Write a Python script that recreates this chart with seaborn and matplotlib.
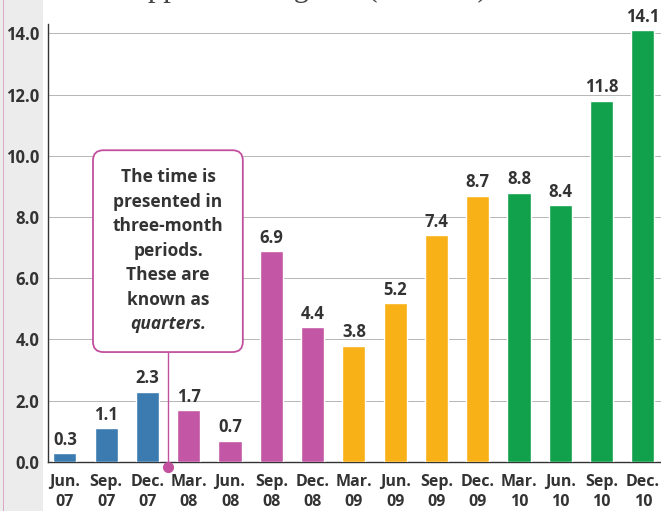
import matplotlib
matplotlib.use('Agg')
import matplotlib.pyplot as plt
import seaborn as sns
from matplotlib.patches import FancyBboxPatch, Rectangle

# data (millions)
quarters = ['Jun.\n07', 'Sep.\n07', 'Dec.\n07', 'Mar.\n08', 'Jun.\n08', 'Sep.\n08', 'Dec.\n08',
            'Mar.\n09', 'Jun.\n09', 'Sep.\n09', 'Dec.\n09', 'Mar.\n10', 'Jun.\n10', 'Sep.\n10', 'Dec.\n10']
sales = [0.3, 1.1, 2.3, 1.7, 0.7, 6.9, 4.4, 3.8, 5.2, 7.4, 8.7, 8.8, 8.4, 11.8, 14.1]
years = ['2007', '2007', '2007', '2008', '2008', '2008', '2008',
         '2009', '2009', '2009', '2009', '2010', '2010', '2010', '2010']
year_colors = {'2007': '#3b7bb0', '2008': '#c357a6', '2009': '#f8b117', '2010': '#11a04b'}
yticks = [0, 2, 4, 6, 8, 10, 12, 14]
note_lines = ['The time is', 'presented in', 'three-month', 'periods.', 'These are', 'known as', 'quarters.']

sns.set_style('white')
plt.rcParams['font.family'] = ['Open Sans', 'DejaVu Sans']
txt = '#333333'
pink = '#c2509f'

fig = plt.figure(figsize=(6.61, 5.11), dpi=100)
fig.patch.set_facecolor('white')
# grey page edge on the left of the photo
fig.patches.append(Rectangle((0, 0), 0.065, 1, transform=fig.transFigure,
                             facecolor='#ececec', edgecolor='none', zorder=-2))
fig.patches.append(Rectangle((0.004, 0), 0.002, 1, transform=fig.transFigure,
                             facecolor='#dcaac9', edgecolor='none', zorder=-1))

ax = fig.add_axes([0.0726, 0.0959, 0.9274, 0.857])
ax.set_facecolor('white')

sns.barplot(x=quarters, y=sales, hue=years, palette=year_colors, width=0.56,
            legend=False, ax=ax, zorder=3, saturation=1)

for c in ax.containers:
    ax.bar_label(c, fmt='%.1f', padding=3, fontsize=12, fontweight='bold', color=txt)

ax.set_xlim(-0.41, 14.44)
ax.set_ylim(0, 14.3)
ax.set_yticks(yticks)
ax.set_yticklabels([f'{v:.1f}' for v in yticks])
ax.yaxis.grid(True, color='#b5b5b5', linewidth=0.7, zorder=0)
ax.set_axisbelow(True)
ax.tick_params(axis='y', length=5, width=0.8, color='#888888', pad=1,
               labelsize=12, labelcolor=txt)
ax.tick_params(axis='x', length=0, pad=9, labelsize=11.5, labelcolor=txt)
for lab in ax.get_xticklabels():
    lab.set_fontweight('bold')
    lab.set_linespacing(1.3)
for lab in ax.get_yticklabels():
    lab.set_fontweight('bold')
for s in ['top', 'right']:
    ax.spines[s].set_visible(False)
for s in ['left', 'bottom']:
    ax.spines[s].set_color('#333333')
    ax.spines[s].set_linewidth(1.0)

# call-out box about quarters
box = FancyBboxPatch((0.68, 3.59), 3.63, 6.59,
                     boxstyle='round,pad=0,rounding_size=0.25', mutation_aspect=1.35,
                     facecolor='white', edgecolor=pink, linewidth=1.3, zorder=5)
ax.add_patch(box)
for i, line in enumerate(note_lines):
    ax.text(2.5, 9.3 - 0.8 * i, line, ha='center', va='center', fontsize=12.5,
            fontweight='bold', fontstyle='italic' if i == len(note_lines) - 1 else 'normal',
            color=txt, zorder=6)
ax.plot([2.5, 2.5], [3.59, -0.16], color=pink, linewidth=1.0, zorder=4, clip_on=False)
ax.plot([2.5], [-0.16], 'o', color=pink, markersize=7, zorder=6, clip_on=False)

# title of the page, mostly cut off at the top of the photo
fig.text(0.19, 1 + 4 / 511, 'Apple sales figures (millions)', ha='left', va='baseline',
         fontsize=22, family='Liberation Serif', color='#444444')

fig.savefig('out.png', dpi=100)
